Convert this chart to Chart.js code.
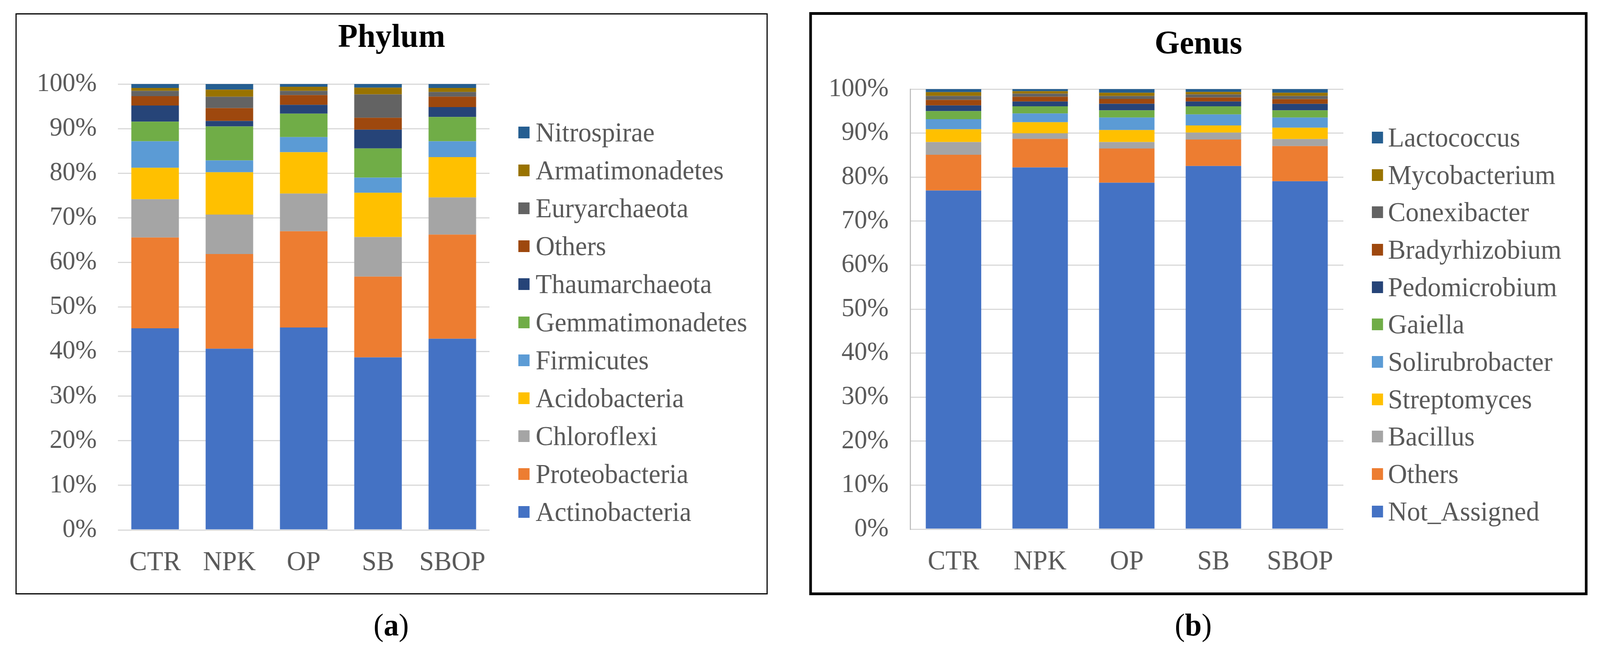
<!DOCTYPE html>
<html>
<head>
<meta charset="utf-8">
<script src="https://cdn.jsdelivr.net/npm/chart.js@4.4.1/dist/chart.umd.min.js"></script>
<style>
  html, body { margin: 0; padding: 0; background: #fff; overflow: hidden; }
  #page { width: 4233px; height: 1653px; position: absolute; left: 0; top: 0; transform-origin: 0 0;
          font-family: "Liberation Serif", "Times New Roman", serif; background: #fff; }
  .panel { position: absolute; box-sizing: border-box; border: 3px solid #000; background: #fff; }
  .panel canvas { position: absolute; left: 0; top: 0; }
  .legend { position: absolute; }
  .legend .row { display: flex; align-items: center; color: #595959; font-size: 70px; white-space: nowrap; }
  .legend .sw { width: 30px; height: 30px; flex: none; }
  .cap { position: absolute; font-size: 80px; line-height: 80px; color: #000; transform: translateX(-50%); white-space: nowrap; }
</style>
</head>
<body>
<div id="page">
  <div class="panel" style="left:41px;top:34px;width:1990px;height:1487px;border-width:3px">
    <canvas id="chartA" width="1984" height="1481"></canvas>
  </div>
  <div class="legend" id="legendA" style="left:1371px;top:290px"></div>

  <div class="panel" style="left:2141px;top:31px;width:2059px;height:1492px;border-width:7px">
    <canvas id="chartB" width="2045" height="1478"></canvas>
  </div>
  <div class="legend" id="legendB" style="left:3629px;top:304px"></div>

  <div class="cap" style="left:1035px;top:1559px">(<b>a</b>)</div>
  <div class="cap" style="left:3157px;top:1559px">(<b>b</b>)</div>
</div>

<script>
// ページ全体を表示領域に合わせる
const page = document.getElementById('page');
const sx = window.innerWidth / 4233, sy = window.innerHeight / 1653;
if (Math.abs(sx - 1) > 0.002 || Math.abs(sy - 1) > 0.002) {
  page.style.transform = `scale(${sx}, ${sy})`;
}

// 処理区
const groups = ['CTR', 'NPK', 'OP', 'SB', 'SBOP'];
const yTickLabels = ['0%', '10%', '20%', '30%', '40%', '50%', '60%', '70%', '80%', '90%', '100%'];

// Excel 系の配色（下から順）
const seriesColors = ['#4472C4', '#ED7D31', '#A5A5A5', '#FFC000', '#5B9BD5', '#70AD47',
                      '#264478', '#9E480E', '#636363', '#997300', '#255E91'];

// (a) 門レベル（%） CTR, NPK, OP, SB, SBOP
const phylumNames = ['Actinobacteria', 'Proteobacteria', 'Chloroflexi', 'Acidobacteria', 'Firmicutes',
                     'Gemmatimonadetes', 'Thaumarchaeota', 'Others', 'Euryarchaeota', 'Armatimonadetes', 'Nitrospirae'];
const actinobacteria   = [45.22, 40.64, 45.39, 38.69, 42.89];
const proteobacteria   = [20.35, 21.23, 21.58, 18.13, 23.35];
const chloroflexi      = [8.59, 8.86, 8.47, 8.87, 8.33];
const acidobacteria    = [7.07, 9.48, 9.26, 9.93, 9.05];
const firmicutes       = [5.94, 2.65, 3.40, 3.40, 3.55];
const gemmatimonadetes = [4.39, 7.63, 5.27, 6.55, 5.44];
const thaumarchaeota   = [3.61, 1.22, 1.97, 4.19, 2.21];
const phylumOthers     = [2.12, 2.91, 2.19, 2.67, 2.36];
const euryarchaeota    = [1.17, 2.53, 0.93, 5.24, 1.05];
const armatimonadetes  = [0.67, 1.60, 0.93, 1.52, 0.90];
const nitrospirae      = [0.87, 1.25, 0.61, 0.81, 0.87];
const phylumSeries = [actinobacteria, proteobacteria, chloroflexi, acidobacteria, firmicutes,
                      gemmatimonadetes, thaumarchaeota, phylumOthers, euryarchaeota, armatimonadetes, nitrospirae];

// (b) 属レベル（%）
const genusNames = ['Not_Assigned', 'Others', 'Bacillus', 'Streptomyces', 'Solirubrobacter',
                    'Gaiella', 'Pedomicrobium', 'Bradyrhizobium', 'Conexibacter', 'Mycobacterium', 'Lactococcus'];
const notAssigned     = [76.95, 82.20, 78.74, 82.53, 79.06];
const genusOthers     = [8.13, 6.49, 7.75, 6.02, 7.99];
const bacillus        = [2.88, 1.27, 1.47, 1.58, 1.61];
const streptomyces    = [2.91, 2.52, 2.73, 1.62, 2.56];
const solirubrobacter = [2.29, 2.00, 2.85, 2.49, 2.32];
const gaiella         = [1.84, 1.61, 1.64, 1.85, 1.64];
const pedomicrobium   = [1.30, 1.09, 1.50, 1.09, 1.47];
const bradyrhizobium  = [1.26, 1.09, 1.09, 0.91, 1.09];
const conexibacter    = [0.88, 0.70, 0.67, 0.71, 0.70];
const mycobacterium   = [0.88, 0.56, 0.74, 0.55, 0.74];
const lactococcus     = [0.68, 0.47, 0.82, 0.65, 0.82];
const genusSeries = [notAssigned, genusOthers, bacillus, streptomyces, solirubrobacter,
                     gaiella, pedomicrobium, bradyrhizobium, conexibacter, mycobacterium, lactococcus];

Chart.defaults.font.family = '"Liberation Serif", "Times New Roman", serif';

function makeChart(id, title, names, series, lay) {
  const datasets = names.map((n, i) => ({
    label: n,
    data: series[i],
    backgroundColor: seriesColors[i],
    borderWidth: 0,
    barPercentage: 0.64,
    categoryPercentage: 1.0,
  }));
  return new Chart(document.getElementById(id), {
    type: 'bar',
    data: { labels: groups, datasets },
    options: {
      responsive: false,
      animation: false,
      devicePixelRatio: 1,
      plugins: {
        legend: { display: false },
        tooltip: { enabled: false },
        title: {
          display: true, text: title, color: '#000',
          font: { size: 85, weight: 'bold' },
          padding: { top: lay.titleTop, bottom: lay.titleBottom }
        }
      },
      scales: {
        x: {
          stacked: true,
          grid: { display: false },
          border: { display: false },
          ticks: { color: '#595959', font: { size: 70 }, padding: 35 },
          afterFit: s => { s.height = 162; }
        },
        y: {
          stacked: true, min: 0, max: 100,
          grid: { color: '#d9d9d9', lineWidth: 3, drawTicks: false },
          border: { display: lay.axisLine, color: '#bfbfbf', width: 3 },
          ticks: {
            stepSize: 10, color: '#595959', font: { size: 68 }, padding: lay.tickPad,
            callback: (v, i) => yTickLabels[i]
          },
          afterFit: s => { s.width = lay.left; }
        },
        // 凡例用の右余白（タイトルは枠全体の中央に置く）
        space: {
          type: 'linear', position: 'right',
          grid: { display: false }, border: { display: false },
          ticks: { display: false },
          afterFit: s => { s.width = lay.right; }
        }
      }
    }
  });
}

function buildLegend(id, names, rowH, gap) {
  const el = document.getElementById(id);
  // 凡例は上から逆順
  for (let i = names.length - 1; i >= 0; i--) {
    const row = document.createElement('div');
    row.className = 'row';
    row.style.height = rowH + 'px';
    row.innerHTML = `<span class="sw" style="background:${seriesColors[i]};margin-right:${gap}px"></span><span>${names[i]}</span>`;
    el.appendChild(row);
  }
}

makeChart('chartA', 'Phylum', phylumNames, phylumSeries,
  { left: 268, right: 733, titleTop: 10, titleBottom: 66, tickPad: 56, axisLine: false });
makeChart('chartB', 'Genus', genusNames, genusSeries,
  { left: 260, right: 639, titleTop: 26, titleBottom: 62, tickPad: 57, axisLine: true });

buildLegend('legendA', phylumNames, 97.2, 16);
buildLegend('legendB', genusNames, 95.7, 13);
</script>
</body>
</html>
